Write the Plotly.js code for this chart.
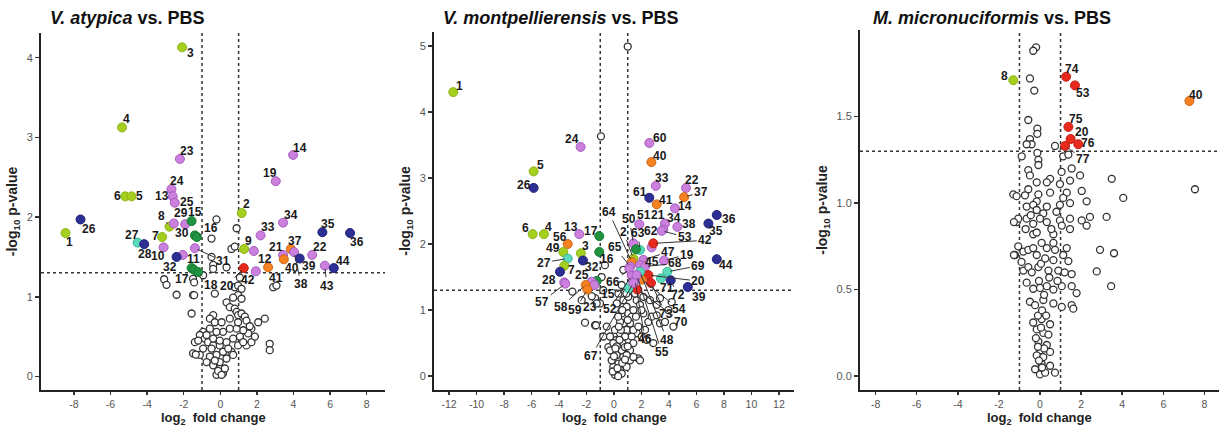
<!DOCTYPE html>
<html>
<head>
<meta charset="utf-8">
<script src="https://cdn.plot.ly/plotly-3.0.1.min.js"></script>
<style>html,body{margin:0;padding:0;background:#fff;}#chart{width:1219px;height:428px;}</style>
</head>
<body>
<div id="chart"></div>
<script>
// ---------------- Panel 1: V. atypica vs. PBS ----------------
const p1Labels = ['3','4','23','24','6','5','13','25','26','1','27','28','7','8','29','','15','30','16','10','','31','32','11','17','18','2','9','12','20','42','33','34','19','14','21','40','37','41','38','39','22','35','36','43','44'];
const p1X = [-2.09,-5.37,-2.21,-2.67,-5.2,-4.85,-2.6,-2.49,-7.64,-8.46,-4.52,-4.16,-3.18,-2.78,-1.92,-2.54,-1.57,-1.39,-1.28,-3.10,-2.05,-1.39,-2.39,-1.57,-1.45,-1.21,1.17,1.30,1.83,1.28,1.94,2.20,3.43,3.03,3.98,3.43,3.47,3.85,2.61,4.03,4.34,5.02,5.58,7.09,5.71,6.20];
const p1Y = [4.13,3.125,2.73,2.35,2.26,2.26,2.26,2.18,1.97,1.80,1.68,1.66,1.75,1.88,1.91,1.92,1.95,1.77,1.75,1.62,1.525,1.61,1.50,1.36,1.34,1.31,2.05,1.60,1.575,1.36,1.32,1.77,1.93,2.45,2.78,1.525,1.47,1.60,1.37,1.56,1.48,1.525,1.81,1.80,1.39,1.36];
const p1Group = ['G','G','P','P','G','G','P','P','N','G','T','N','G','G','P','P','D','D','D','P','P','P','N','D','D','D','G','G','P','R','P','P','P','P','P','P','O','O','O','P','N','P','N','N','P','N'];
const p1NsX = [-0.21,0.89,-0.48,0.61,0.79,-0.48,-0.39,0.34,-0.39,-0.94,-1.49,-1.49,-0.30,1.07,0.79,0.97,1.16,2.89,3.07,0.97,0.70,1.16,0.34,0.52,0.79,0.89,0.97,1.16,1.34,1.43,-1.57,-0.39,-0.57,-0.30,2.07,2.43,1.70,1.52,1.25,0.89,0.52,0.15,-0.21,-0.57,-0.94,-1.12,-0.85,-0.67,-0.39,-0.03,0.34,0.70,1.07,0.97,0.61,0.15,-0.21,-0.57,-0.75,-0.39,-0.03,0.15,-0.21,-0.03,0.34,0.70,-0.94,-1.39,-1.49,2.70,2.70,1.43,1.70,1.89,1.25,-1.12,-0.39,0.07,0.52,0.97,1.61,-0.12,0.07,0.25,-0.30,0.43,-0.48,-0.03,-0.75,-3.07,-2.94,-2.39,-1.43,-1.21,-1.34,-1.43];
const p1NsY = [1.97,1.86,1.73,1.60,1.63,1.50,1.40,1.37,1.35,1.27,1.225,1.02,1.04,1.24,1.12,1.14,1.10,1.12,1.14,1.02,0.99,0.975,0.93,0.87,0.85,0.81,0.77,0.79,0.75,0.70,0.79,0.77,0.725,0.68,0.68,0.725,0.60,0.54,0.58,0.60,0.60,0.56,0.56,0.60,0.56,0.52,0.475,0.43,0.39,0.39,0.43,0.475,0.50,0.39,0.31,0.31,0.27,0.25,0.18,0.14,0.10,0.04,0.02,0.18,0.225,0.27,0.35,0.43,0.29,0.41,0.33,0.39,0.43,0.50,0.43,0.27,0.475,0.68,0.725,0.68,0.63,0.07,0.02,0.10,0.20,0.35,0.35,0.45,0.52,1.22,1.15,1.025,1.02,0.45,0.275,1.18];
const p1XTicks = [-8,-6,-4,-2,0,2,4,6,8];
const p1YTicks = [0,1,2,3,4];

// ---------------- Panel 2: V. montpellierensis vs. PBS ----------------
const p2Labels = ['1','24','5','26','60','40','33','61','22','37','41','14','36','35','44','34','21','38','51','50','63','','62','53','42','2','64','65','47','45','19','68','69','20','71','72','39','54','73','70','15','48','66','52','46','55','67','17','16','','25','23','58','59','6','4','13','56','49','3','27','7','32','','28','57'];
const p2X = [-11.70,-2.43,-5.85,-5.85,2.57,2.72,3.04,2.57,5.24,5.10,3.11,4.44,7.48,6.87,7.48,3.71,3.59,4.61,1.84,1.41,1.89,1.60,2.74,3.47,2.86,1.41,1.29,1.17,2.14,1.89,3.64,2.26,3.88,2.50,3.42,4.13,5.37,2.02,2.69,1.70,1.04,1.89,1.12,1.29,1.53,1.65,1.41,-1.07,-1.07,-1.26,-1.62,-1.43,-2.06,-1.94,-5.92,-5.10,-2.53,-3.37,-3.69,-2.41,-3.37,-3.62,-2.26,-3.93,-3.62,-3.55];
const p2Y = [4.30,3.47,3.10,2.85,3.53,3.24,2.88,2.70,2.85,2.71,2.60,2.54,2.44,2.31,1.77,2.31,2.22,2.26,2.30,2.01,1.91,1.92,1.95,2.20,2.01,1.78,1.73,1.66,1.76,1.68,1.75,1.66,1.58,1.53,1.48,1.45,1.35,1.46,1.41,1.31,1.33,1.58,1.62,1.52,1.45,1.53,1.41,2.12,1.88,1.44,1.43,1.38,1.38,1.31,2.15,2.15,2.15,2.0,1.88,1.86,1.78,1.67,1.75,1.58,1.42,1.40];
const p2Group = ['G','P','G','N','P','O','P','N','P','O','O','P','N','N','N','P','P','P','P','P','T','D','P','P','R','G','O','P','P','P','P','P','T','R','T','N','N','O','R','R','T','T','P','P','P','P','P','D','D','D','P','P','O','O','G','G','P','O','G','G','T','G','N','N','P','P'];
const p2NsX = [-0.66,-0.90,-0.78,-1.38,-1.02,-1.38,-0.53,-0.78,-0.41,0.68,0.56,0.32,0.68,0.92,0.56,1.04,1.29,1.41,1.65,1.89,2.14,2.50,2.74,3.11,3.35,3.71,4.32,2.26,2.86,1.77,1.89,1.65,1.17,0.68,0.92,0.44,0.19,-0.05,0.68,1.04,1.17,0.56,0.19,0.68,0.32,-0.05,0.44,0.07,0.56,0.92,1.17,1.41,0.92,0.80,1.29,1.41,1.77,2.02,2.38,-0.29,-0.17,1.41,0.44,0.07,-0.29,2.62,3.11,3.35,3.96,4.20,2.14,1.53,1.04,1.29,-0.95,1.00,-3.03,-2.35,-1.62,-2.11,-1.31,-1.26,0.30,0.20,0.80,0.50,1.00,0.30,0.00,-0.10,0.25,0.60,0.80,1.00,0.40,0.10,0.60,0.90,0.20,1.60,2.00,0.35];
const p2NsY = [1.68,1.50,1.30,1.18,1.10,0.77,0.75,0.60,0.44,1.61,1.38,1.25,1.15,1.05,0.95,0.95,0.90,1.00,1.15,1.08,0.95,0.82,0.90,0.92,0.80,0.82,0.75,0.70,0.50,0.27,0.24,0.65,0.80,0.80,0.70,0.65,0.55,0.50,0.50,0.55,0.39,0.39,0.32,0.29,0.19,0.14,0.09,0.02,0.04,0.14,0.24,0.29,0.32,0.44,0.60,0.70,0.75,0.60,0.55,0.39,0.24,0.50,0.82,0.70,0.60,1.15,1.08,1.18,1.00,1.12,1.20,1.25,1.20,1.34,3.63,4.99,1.28,1.15,1.21,0.81,0.77,1.10,0.00,0.45,0.60,0.70,0.85,0.90,0.30,0.07,0.12,0.20,0.25,0.45,0.55,0.42,1.00,1.25,1.10,0.90,1.00,0.75];
const p2XTicks = [-12,-10,-8,-6,-4,-2,0,2,4,6,8,10,12];
const p2YTicks = [0,1,2,3,4,5];

// ---------------- Panel 3: M. micronuciformis vs. PBS ----------------
const p3Labels = ['8','74','53','40','75','20','76','77'];
const p3X = [-1.30,1.27,1.70,7.27,1.38,1.49,1.86,1.22];
const p3Y = [1.71,1.73,1.68,1.59,1.44,1.37,1.34,1.33];
const p3Group = ['G','R','R','O','R','R','R','R'];
const p3NsX = [-0.19,-0.33,-0.49,-0.28,-0.57,-0.13,-0.13,-0.49,-0.41,-0.65,0.73,-0.89,-0.13,-0.08,-0.08,1.13,1.38,1.54,1.95,3.49,-0.57,-0.49,-0.16,0.49,0.33,1.05,0.97,1.46,2.03,4.05,7.54,-1.30,-1.14,0.49,1.30,-0.08,-0.57,-0.16,1.46,2.27,1.13,-0.73,0.97,-0.65,-0.33,-0.16,0.33,0.16,-1.13,-1.06,-0.65,-0.33,0.00,0.33,0.97,1.46,2.03,2.43,3.24,1.06,1.46,2.27,-0.33,-0.16,0.65,-1.06,-1.22,-0.81,-0.57,-0.33,0.08,-0.16,0.33,0.65,0.73,1.30,1.13,1.38,2.92,3.60,2.76,3.46,-0.81,-0.57,-0.08,0.41,0.65,0.89,-0.65,-0.33,0.00,0.33,0.65,1.06,1.54,1.54,1.78,-0.49,-0.24,0.16,0.65,1.06,1.54,1.62,-0.33,0.08,0.49,-0.16,0.16,0.41,-0.08,0.33,0.00,-0.16,0.16,0.49,-0.24,0.00,0.25,0.49,0.73,0.08,-1.27,-1.27,-0.10,0.10,0.20,-0.05,0.45,-0.40,0.05,0.25,-0.20,0.05,-0.05,0.20,0.10,-0.10,0.30,0.85,1.20,-0.90,0.55,0.80,-0.70,-0.45];
const p3NsY = [1.90,1.88,1.72,1.65,1.48,1.43,1.40,1.37,1.34,1.34,1.33,1.27,1.29,1.25,1.22,1.27,1.28,1.20,1.16,1.14,1.19,1.16,1.12,1.14,1.12,1.18,1.11,1.13,1.07,1.03,1.08,1.05,1.04,1.06,1.06,1.05,1.08,1.01,1.00,1.01,1.03,1.045,0.99,0.98,0.99,0.96,0.98,0.94,0.89,0.91,0.91,0.88,0.91,0.89,0.90,0.91,0.90,0.92,0.92,0.87,0.85,0.87,0.82,0.83,0.82,0.75,0.70,0.72,0.73,0.74,0.77,0.70,0.74,0.77,0.73,0.74,0.70,0.665,0.73,0.71,0.605,0.52,0.61,0.63,0.63,0.61,0.67,0.61,0.54,0.505,0.51,0.52,0.50,0.52,0.59,0.52,0.48,0.43,0.41,0.44,0.42,0.40,0.41,0.39,0.31,0.33,0.30,0.27,0.25,0.24,0.20,0.18,0.15,0.12,0.11,0.14,0.04,0.01,0.02,0.06,0.02,0.07,0.89,0.70,0.35,0.38,0.47,0.55,0.57,0.60,0.65,0.68,0.22,0.28,0.09,0.16,0.05,0.17,0.35,0.55,0.60,0.66,0.85,0.95,0.85,0.93];
const p3XTicks = [-8,-6,-4,-2,0,2,4,6,8];
const p3YTicks = [0,0.5,1.0,1.5];

// ---------------- label placement (layout, pixels: dx, dy, leader line) ----------------
const p1LabelPos = [[8,6,0],[4,-8,0],[7,-8,0],[6,-8,0],[-8,0,0],[8,0,0],[-11,0,0],[12,-1,0],[8,10,0],[4,9,0],[-6,-8,0],[1,10,0],[-7,-1,0],[-8,-11,1],[-4,-11,0],null,[3,-9,0],[-13,-2,0],[14,-9,1],[-6,9,0],null,[28,13,1],[-7,10,0],[2,-9,0],[-12,9,1],[13,13,1],[5,-9,0],[4,-8,0],[11,8,1],[-17,18,1],[-8,9,0],[7,-8,0],[8,-8,0],[-6,-8,0],[7,-7,0],[-7,-8,0],[8,9,0],[4,-8,0],[8,11,1],[7,32,1],[9,7,0],[8,-8,0],[6,-8,0],[7,9,0],[2,20,1],[9,-7,0]];
const p2LabelPos = [[6,-6,0],[-9,-8,0],[7,-6,0],[-10,-3,0],[11,-5,0],[9,-6,0],[6,-8,0],[-9,-6,0],[6,-8,0],[17,-5,1],[9,-4,0],[10,-2,0],[12,4,0],[8,7,0],[9,6,0],[9,-6,0],[-5,-14,0],[12,-3,0],[5,-9,0],[-4,-24,1],[-2,-17,1],null,[-1,-16,0],[23,6,1],[52,-3,1],[-10,-27,1],[-23,-50,1],[-15,-19,1],[25,-8,1],[12,-3,0],[23,-6,1],[30,-3,1],[31,-6,1],[50,6,1],[6,10,0],[7,15,1],[11,10,0],[37,29,1],[15,31,1],[44,32,1],[-20,6,1],[27,68,1],[-16,13,1],[-22,33,1],[10,59,1],[25,77,1],[-42,73,1],[-8,-5,0],[8,7,0],null,[-10,-7,0],[-4,22,0],[-25,22,1],[-12,20,1],[-7,-6,0],[5,-7,0],[-8,-7,0],[-8,-7,0],[-10,-4,0],[5,-7,0],[-24,4,1],[7,4,0],[9,6,0],null,[-15,-2,0],[-23,18,1]];
const p3LabelPos = [[-9,-4,0],[6,-8,0],[8,8,0],[7,-6,0],[8,-8,0],[11,-7,0],[10,-1,0],[18,13,1]];

// ---------------- styles ----------------
const groupFill = {G:'#a5cf1f', P:'#cc80dd', D:'#1f9340', N:'#2d2f95', T:'#5cd8bd', O:'#f5821f', R:'#e82a1c'};
const groupLine = {G:'#8cb418', P:'#a65dc0', D:'#147a30', N:'#1f2277', T:'#33b596', O:'#cf661a', R:'#c21f15'};
const W = 1219, H = 428;
const FONT = 'Arial, "Liberation Sans", sans-serif';

const traces = [];
const annotations = [];
const shapes = [];

function panel(idx, nsX, nsY, xs, ys, groups, labels, pos) {
  const s = idx === 1 ? '' : String(idx);
  traces.push({
    type:'scatter', mode:'markers', x:nsX, y:nsY, xaxis:'x'+s, yaxis:'y'+s,
    marker:{size:7, color:'#ffffff', line:{color:'#333333', width:1.3}},
    hoverinfo:'skip', showlegend:false, cliponaxis:false
  });
  traces.push({
    type:'scatter', mode:'markers', x:xs, y:ys, xaxis:'x'+s, yaxis:'y'+s,
    marker:{size:9, color:groups.map(g=>groupFill[g]), line:{color:groups.map(g=>groupLine[g]), width:1}},
    text:labels, showlegend:false, cliponaxis:false
  });
  labels.forEach((lab, i) => {
    const p = pos[i];
    if (!lab || !p) return;
    annotations.push({
      x:xs[i], y:ys[i], xref:'x'+s, yref:'y'+s, text:'<b>'+lab+'</b>',
      showarrow:true, ax:p[0], ay:p[1], arrowhead:0, arrowwidth:1,
      arrowcolor: p[2] ? '#333333' : 'rgba(0,0,0,0)', standoff: p[2] ? 3 : 0,
      font:{family:FONT, size:12, color:'#1a1a1a'}
    });
  });
  const dot = {dash:'dot', width:1.5, color:'#333333'};
  [-1, 1].forEach(v => shapes.push({type:'line', layer:'below', xref:'x'+s, yref:'y'+s+' domain', x0:v, x1:v, y0:0, y1:1, line:dot}));
  shapes.push({type:'line', layer:'below', xref:'x'+s+' domain', yref:'y'+s, x0:0, x1:1, y0:1.3, y1:1.3, line:dot});
}

panel(1, p1NsX, p1NsY, p1X, p1Y, p1Group, p1Labels, p1LabelPos);
panel(2, p2NsX, p2NsY, p2X, p2Y, p2Group, p2Labels, p2LabelPos);
panel(3, p3NsX, p3NsY, p3X, p3Y, p3Group, p3Labels, p3LabelPos);

function xax(domain, range, ticks) {
  return {domain, range, tickvals:ticks, ticktext:ticks.map(String), showline:true, linecolor:'#222', linewidth:2,
    ticks:'outside', ticklen:3, tickwidth:1.5, tickcolor:'#333', showgrid:false, zeroline:false,
    tickfont:{family:FONT, size:10.5, color:'#555'}};
}
function yax(domain, range, ticks, fmt, anchor) {
  return {domain, range, tickvals:ticks, ticktext:ticks.map(v=>fmt ? v.toFixed(1) : String(v)), showline:true, linecolor:'#222', linewidth:2,
    ticks:'outside', ticklen:4, tickwidth:1.5, tickcolor:'#333', showgrid:false, zeroline:false, anchor,
    tickfont:{family:FONT, size:11, color:'#555'},
    title:{text:'<b>-log<sub>10</sub> p-value</b>', font:{family:FONT, size:14, color:'#222'}, standoff:6}};
}

const titleFont = {family:FONT, size:18, color:'#111'};
annotations.push({xref:'paper', yref:'paper', x:48/W, y:1-18/H, xanchor:'left', yanchor:'middle', showarrow:false, text:'<b><i>V. atypica</i> vs. PBS</b>', font:titleFont});
annotations.push({xref:'paper', yref:'paper', x:441/W, y:1-18/H, xanchor:'left', yanchor:'middle', showarrow:false, text:'<b><i>V. montpellierensis</i> vs. PBS</b>', font:titleFont});
annotations.push({xref:'paper', yref:'paper', x:871/W, y:1-18/H, xanchor:'left', yanchor:'middle', showarrow:false, text:'<b><i>M. micronuciformis</i> vs. PBS</b>', font:titleFont});

// x-axis titles (placed beneath each panel)
const xTitleFont = {family:FONT, size:13, color:'#222'};
[[41,385],[434,794],[860,1219]].forEach(d => {
  annotations.push({xref:'paper', yref:'paper', x:((d[0]+d[1])/2)/W, y:0, xanchor:'center', yanchor:'bottom', showarrow:false,
    text:'<b>log<sub>2</sub>  fold change</b>', font:xTitleFont, borderpad:0});
});

const B = 390;
const layout = {
  width:W, height:H, margin:{l:0, r:0, t:0, b:0}, paper_bgcolor:'#fff', plot_bgcolor:'#fff',
  showlegend:false, hovermode:'closest',
  xaxis: Object.assign(xax([41/W, 385/W], [-9.8, 9.0], p1XTicks), {anchor:'y'}),
  yaxis: yax([1-B/H, 1-33/H], [-0.17, 4.31], p1YTicks, false, 'x'),
  xaxis2: Object.assign(xax([434/W, 794/W], [-13.1, 13.1], p2XTicks), {anchor:'y2'}),
  yaxis2: yax([1-B/H, 1-32/H], [-0.21, 5.21], p2YTicks, false, 'x2'),
  xaxis3: Object.assign(xax([860/W, 1], [-8.76, 8.71], p3XTicks), {anchor:'y3'}),
  yaxis3: yax([1-B/H, 1-30/H], [-0.08, 2.0], p3YTicks, true, 'x3'),
  annotations, shapes
};

Plotly.newPlot('chart', traces, layout, {displayModeBar:false, staticPlot:true});
</script>
</body>
</html>
